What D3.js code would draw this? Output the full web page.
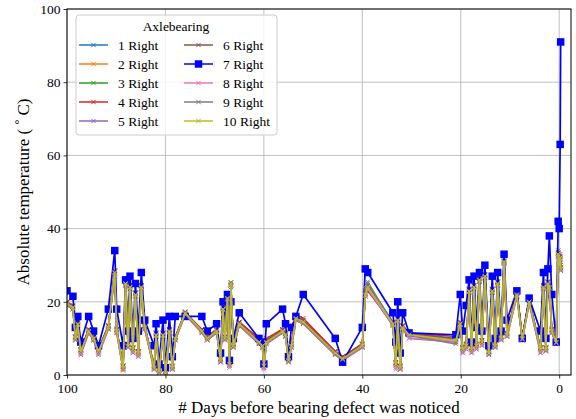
<!DOCTYPE html>
<html><head><meta charset="utf-8">
<script src="https://cdn.jsdelivr.net/npm/d3@7"></script>
<style>
html,body{margin:0;padding:0;background:#fff;}
svg text{font-family:"Liberation Serif","Times New Roman",serif;fill:#000;}
</style></head>
<body><svg id="c" width="576" height="419"></svg>
<script>
const days = [100,98.8,98.3,97.8,97.2,95.6,94.6,93.6,91.6,90.3,
89.9,88.6,88.1,87.6,87.2,86.6,86.1,85.5,84.9,84.2,
82.3,81.9,81.3,80.5,80.0,79.2,78.6,78.0,76.0,72.6,
71.5,69.6,68.8,68.3,67.9,67.4,67.0,66.7,66.2,65.0,
61.0,60.3,60.0,59.5,56.2,55.6,55.0,54.4,53.5,52.0,
45.5,44.0,40.0,39.4,38.9,33.8,33.2,32.8,32.3,31.8,
30.5,21.0,20.1,19.6,18.9,18.3,17.8,17.3,16.8,16.2,
15.7,15.1,14.3,13.6,13.0,12.5,11.8,11.2,10.6,8.6,
7.5,6.1,3.8,3.2,2.7,2.3,2.0,1.5,0.6,0.2,
0.0,-0.2,-0.3];

const right1 = [20,18,10.5,14.5,7,12.5,10.5,7,13.5,28.5,
12.5,2.5,25,8.5,24.5,7.5,22.5,6.5,24.5,13.5,
2.5,11.5,1.5,11.5,1,12.5,2.5,10.5,16.5,12.5,
10.5,12.5,4.5,18.5,10.5,21,3.5,24,8.5,14.5,
9.5,8.5,3,9.5,12.5,11.5,4.5,8.5,16,15,
6.5,5,8.5,23,25,14.5,3.5,15.5,2.5,13.5,
11.5,10,14.5,7.5,8.5,23.5,7.5,24.5,8.5,26.5,
9.5,27.5,6.5,23.5,8.5,25.5,10.5,31,11.5,22.5,
10.5,20.5,7.5,24.5,7.5,25.5,25,12.5,9.5,34,
31,33,30];
const right2 = [19,18,9.5,13.5,6,11.5,9.5,6,12.5,27.5,
11.5,1.2,24.5,7.5,23.5,6.5,21.5,5.5,23.5,12.5,
1.5,10.5,0.8,10.5,0.3,11.5,1.5,9.5,16.5,11.5,
9.5,11.5,3.5,17.5,9.5,20.5,2.5,24.5,7.5,13.5,
8.5,7.5,2,8.5,11.5,10.5,3.5,7.5,15,14,
5.5,4,7.5,21.5,23.5,13.5,2.5,14.5,1.5,12.5,
11,9,13.5,6.5,7.5,22.5,6.5,23.5,7.5,25.5,
8.5,26.5,5.5,22.5,7.5,24.5,9.5,30.5,10.5,21.5,
9.5,19.5,6.5,23.5,6.5,24.5,23.5,11.5,8.5,32.5,
29.5,31.5,28.5];
const right3 = [19.8,18.7,10.2,14.3,6.8,12.2,10.3,6.7,13.3,28.2,
12.3,2.3,25.3,8.2,24.2,7.3,22.2,6.2,24.3,13.2,
2.2,11.3,1.2,11.2,0.8,12.3,2.3,10.2,17.2,12.3,
10.2,12.3,4.2,18.3,10.2,21.3,3.2,25.3,8.2,14.3,
9.2,8.3,2.7,9.3,12.3,11.2,4.2,8.3,15.7,14.7,
6.3,4.7,8.2,22.3,24.3,14.2,3.2,15.3,2.2,13.3,
11.2,9.7,14.2,7.3,8.2,23.3,7.2,24.3,8.2,26.3,
9.2,27.3,6.2,23.2,8.3,25.3,10.2,31.3,11.2,22.3,
10.2,20.3,7.2,24.3,7.3,25.2,24.3,12.2,9.2,33.3,
30.3,32.3,29.3];
const right4 = [20,19,10.5,14.5,7,12.5,10.5,7,13.5,28.5,
12.5,2.5,25.5,8.5,24.5,7.5,22.5,6.5,24.5,13.5,
2.5,11.5,1.5,11.5,1,12.5,2.5,10.5,17,12.5,
10.5,12.5,4.5,18.5,10.5,22,3.5,24.5,8.5,14.5,
10,9,3,10,12.5,11.5,4.5,8.5,16.5,15.5,
6.5,5,8.5,22,23,14,3.5,15.5,2.5,13.5,
11.5,10.5,14.5,7.5,8.5,23.5,7.5,24.5,8.5,26.5,
9.5,27.5,6.5,23.5,8.5,25.5,10.5,31,11.5,23,
10.5,20.5,7.5,24.5,7.5,25.5,24.5,12.5,9.5,33.5,
30.5,32.5,29.5];
const right5 = [19,18,9.5,13.5,5.5,11.5,9.5,5.5,12.5,27,
11.5,1.5,24.5,7.5,23.5,6,21.5,5,23.5,12.5,
1.5,10.5,0.5,10.5,0.3,11.5,1.5,9.5,16.5,11.5,
9.5,11.5,3.5,17.5,9.5,20.5,2.5,24.5,7.5,13.5,
8.5,7.5,2,8.5,11.5,10.5,3.5,7.5,15,14,
5.5,4,7.5,21.5,23.5,13.5,2,14.5,1.5,12.5,
10,9,13.5,6,7,22.5,6,23.5,7,25.5,
8,26.5,5.5,22.5,7.5,24.5,9.5,30.5,10.5,21.5,
9.5,19.5,6,23.5,6.5,24.5,23.5,11.5,8.5,32.5,
29.5,31.5,28.5];
const right6 = [19.7,18.8,10.3,14.2,6.7,12.3,10.2,6.8,13.2,28.3,
12.2,2.2,25.2,8.3,24.3,7.2,22.3,6.3,24.2,13.3,
2.3,11.2,1.3,11.3,0.7,12.2,2.2,10.3,17.3,12.2,
10.3,12.2,4.3,18.2,10.3,21.2,3.3,25.2,8.3,14.2,
9.3,8.2,2.8,9.2,12.2,11.3,4.3,8.2,15.8,14.8,
6.2,4.8,8.3,22.2,24.2,14.3,3.3,15.2,2.3,13.2,
11.3,9.8,14.3,7.2,8.3,23.2,7.3,24.2,8.3,26.2,
9.3,27.2,6.3,23.3,8.2,25.2,10.3,31.2,11.3,22.2,
10.3,20.2,7.3,24.2,7.2,25.3,24.2,12.3,9.3,33.2,
30.2,32.2,29.2];
const right7 = [23,21.5,13,16,9,16,12,8,18,34,
18,8,26,12,27,10,25,12,28,15,
8,14,3,15,2,16,5,16,16,16,
12,14,6,20,15,22,4,20,10,17,
10,9,3,14,18,14,5,13,16,22,
10,3.5,13,29,28,17,9,20,6,17,
11.5,11,22,12,19,26,9,27,13,28,
12,30,8,27,10,28,12,33,15,23,
10,21,12,28,10,29,38,22,9,42,
40,63,91];
const right8 = [19.2,18.2,9.7,13.7,5.8,11.7,9.7,5.8,12.7,27.2,
11.7,1.7,24.7,7.7,23.7,6.2,21.7,5.2,23.7,12.7,
1.7,10.7,0.5,10.7,0.2,11.7,1.7,9.7,16.7,11.7,
9.7,11.7,3.7,17.7,9.7,20.7,2,24.7,7.7,13.7,
8.7,7.7,1.5,8.7,11.7,10.7,3.7,7.7,15.2,14.2,
5.7,4.2,7.7,21.7,23.7,13.7,1.5,14.7,1.7,12.7,
10.2,9.2,13.7,6.2,7.2,22.7,6.2,23.7,7.2,25.7,
8.2,26.7,5.7,22.7,7.7,24.7,9.7,30.7,10.7,21.7,
9.7,19.7,6.2,23.7,6.7,24.7,23.7,11.7,8.7,32.7,
29.7,31.7,28.7];
const right9 = [19.3,18.3,9.8,13.8,6.2,11.8,9.8,6.2,12.8,27.8,
11.8,1.8,24.8,7.8,23.8,6.8,21.8,5.8,23.8,12.8,
1.8,10.8,0.8,10.8,0.3,11.8,1.8,9.8,16.8,11.8,
9.8,11.8,3.8,17.8,9.8,20.8,2.8,24.8,7.8,13.8,
8.8,7.8,2.3,8.8,11.8,10.8,3.8,7.8,15.3,14.3,
5.8,4.3,7.8,24,25.5,13.8,2.8,14.8,1.8,12.8,
10.8,8.5,13.8,6.8,7.8,22.8,6.8,23.8,7.8,25.8,
8.8,26.8,5.8,22.8,7.8,24.8,9.8,30.8,10.8,21.8,
9.8,19.8,6.8,23.8,6.8,24.8,23.8,11.8,8.8,32.8,
29.8,31.8,28.8];
const right10 = [19.5,18.5,10,14,6.5,12,10,6.5,13,28,
12,2,25,8,24,7,22,6,24,13,
2,11,1,11,0.5,12,2,10,17,12,
10,12,4,18,10,21,3,25,8,14,
9,8,2.5,9,12,11,4,8,15.5,14.5,
6,4.5,8,22,24,14,3,15,2,13,
11,9.5,14,7,8,23,7,24,8,26,
9,27,6,23,8,25,10,31,11,22,
10,20,7,24,7,25,24,12,9,33,
30,32,29];

const seriesNames = ["1 Right","2 Right","3 Right","4 Right","5 Right","6 Right","7 Right","8 Right","9 Right","10 Right"];
const seriesValues = [right1,right2,right3,right4,right5,right6,right7,right8,right9,right10];
const seriesColors = ["#1f77b4","#ff7f0e","#2ca02c","#d62728","#9467bd","#8c564b","#0000ff","#e377c2","#7f7f7f","#bcbd22"];
const xTicks = [100,80,60,40,20,0];
const yTicks = [0,20,40,60,80,100];
const legendTitle = "Axlebearing";

const W=576,H=419, L=67, R=571, T=9, B=375;
const SERIF = "'Liberation Serif','Times New Roman',serif";
const svg = d3.select("#c");
const x = d3.scaleLinear().domain([100,-2.4]).range([L,R]);
const y = d3.scaleLinear().domain([0,100]).range([B,T]);

// grid
const g = svg.append("g");
g.selectAll(".gx").data(xTicks).join("line")
  .attr("x1",d=>x(d)).attr("x2",d=>x(d)).attr("y1",T).attr("y2",B)
  .attr("stroke","#b0b0b0").attr("stroke-width",0.8);
g.selectAll(".gy").data(yTicks).join("line")
  .attr("y1",d=>y(d)).attr("y2",d=>y(d)).attr("x1",L).attr("x2",R)
  .attr("stroke","#b0b0b0").attr("stroke-width",0.8);

svg.append("clipPath").attr("id","clip").append("rect")
  .attr("x",L).attr("y",T).attr("width",R-L).attr("height",B-T);

const plot = svg.append("g").attr("clip-path","url(#clip)");
const line = d3.line().x((d,i)=>x(days[i])).y(d=>y(d));
const cross = d3.symbol().type(d3.symbolX).size(14);
const square = d3.symbol().type(d3.symbolSquare).size(56);

seriesValues.forEach((vals,k)=>{
  const col = seriesColors[k];
  const sg = plot.append("g");
  sg.append("path").attr("d",line(vals)).attr("fill","none")
    .attr("stroke",col).attr("stroke-width",k===6?1.7:1.5).attr("stroke-linejoin","round");
  sg.selectAll("path.m").data(vals).join("path").attr("class","m")
    .attr("transform",(d,i)=>`translate(${x(days[i])},${y(d)})`)
    .attr("d",k===6?square():cross())
    .attr("fill",col).attr("stroke",col).attr("stroke-width",k===6?0:1);
});

// axes
const xAxis = d3.axisBottom(x).tickValues(xTicks).tickSize(3.5).tickPadding(5).tickFormat(d3.format("d"));
const yAxis = d3.axisLeft(y).tickValues(yTicks).tickSize(3.5).tickPadding(3).tickFormat(d3.format("d"));
const ax = svg.append("g").attr("transform",`translate(0,${B})`).call(xAxis);
const ay = svg.append("g").attr("transform",`translate(${L},0)`).call(yAxis);
[ax,ay].forEach(a=>{
  a.attr("font-family",SERIF).attr("font-size",13.5);
  a.select(".domain").remove();
  a.selectAll("line").attr("stroke","#000").attr("stroke-width",0.8);
  a.selectAll("text").style("font-family",SERIF).style("font-size","13.5px").attr("fill","#000");
});
svg.append("rect").attr("x",L).attr("y",T).attr("width",R-L).attr("height",B-T)
  .attr("fill","none").attr("stroke","#000").attr("stroke-width",1);

// labels
svg.append("text").attr("x",(L+R)/2).attr("y",413).attr("text-anchor","middle")
  .style("font-size","17px").text("# Days before bearing defect was noticed");
const yl = svg.append("text").attr("transform",`translate(29,${(T+B)/2}) rotate(-90)`)
  .attr("text-anchor","middle").style("font-size","17px");
yl.append("tspan").text("Absolute temperature ( ");
yl.append("tspan").attr("dy",-6).style("font-size","12px").text("°");
yl.append("tspan").attr("dy",6).text(" C)");

// legend
const lg = svg.append("g");
lg.append("rect").attr("x",76).attr("y",15).attr("width",201).attr("height",120).attr("rx",3)
  .attr("fill","#fff").attr("fill-opacity",0.8).attr("stroke","#cccccc").attr("stroke-width",1);
lg.append("text").attr("x",176).attr("y",31).attr("text-anchor","middle").style("font-size","13.5px").text(legendTitle);
seriesNames.forEach((nm,k)=>{
  const col = Math.floor(k/5), row = k%5;
  const x0 = col===0?79:184, cy = 45+row*19;
  const it = lg.append("g");
  it.append("line").attr("x1",x0).attr("x2",x0+29).attr("y1",cy).attr("y2",cy)
    .attr("stroke",seriesColors[k]).attr("stroke-width",1.5);
  it.append("path").attr("transform",`translate(${x0+14.5},${cy})`)
    .attr("d",k===6?square():cross()).attr("fill",seriesColors[k]).attr("stroke",seriesColors[k]).attr("stroke-width",k===6?0:1);
  it.append("text").attr("x",x0+39).attr("y",cy+4.5).style("font-size","13.5px").text(nm);
});
</script></body></html>
